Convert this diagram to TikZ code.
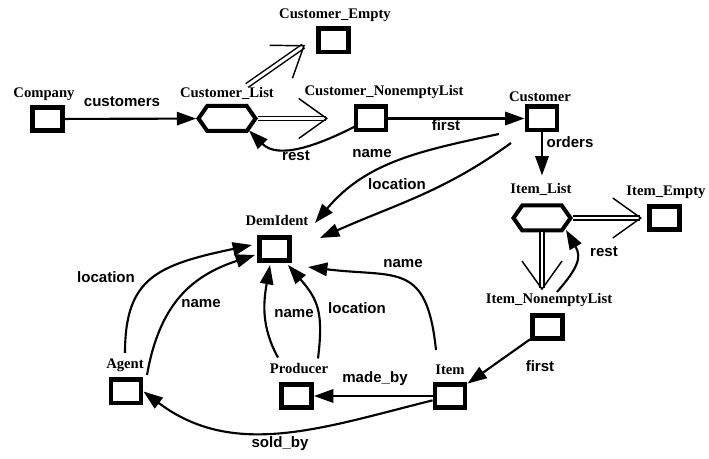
\documentclass[tikz,border=0pt]{standalone}
\usepackage{fontspec}
\setmainfont{Liberation Serif}
\setsansfont{Liberation Sans}
\usetikzlibrary{arrows.meta, calc, shapes.symbols}

\tikzset{
  entity/.style={draw, line width=3.5pt, minimum width=22.7pt, minimum height=17.5pt, inner sep=0pt},
  listbox/.style={draw, line width=3pt, shape=signal, signal to=east and west, signal pointer angle=110, minimum width=42.75pt, minimum height=18.75pt, inner sep=0pt},
  title/.style={font=\bfseries\fontsize{11}{12}\selectfont, text height=7.5pt, text depth=2.5pt, inner sep=0pt},
  rel/.style={font=\sffamily\bfseries\fontsize{11.3}{13}\selectfont, text height=8.3pt, text depth=2.4pt, inner sep=0pt},
  conn/.style={line width=1.6pt, -{Triangle[length=14.5pt,width=10pt]}},
  dconn/.style={double, double distance=2.2pt, line width=1.1pt, -{Straight Barb[length=21pt,width=30pt]}},
}

\begin{document}
\begin{tikzpicture}[x=0.75pt, y=0.75pt]
  \useasboundingbox (0,0) rectangle (709,459);
  % boxes and lists
  \node[entity] (comp) at (47.5,340) {};
  \node[entity] (cempty) at (333.5,418.5) {};
  \node[listbox] (clist) at (227,340.5) {};
  \node[entity] (cnlist) at (371,340.5) {};
  \node[entity] (cust) at (542,340.5) {};
  \node[entity] (dem) at (274.5,210) {};
  \node[listbox] (ilist) at (542,241) {};
  \node[entity] (iempty) at (664.5,241) {};
  \node[entity] (inlist) at (547.5,132) {};
  \node[entity] (item) at (450,63) {};
  \node[entity] (prod) at (296.5,63) {};
  \node[entity] (agent) at (126,67.5) {};
  % their names
  \node[title] (tcomp) at (44,364.6) {Company};
  \node[title] (tcempty) at (335,444.3) {Customer\_Empty};
  \node[title] (tclist) at (227,365.3) {Customer\_List};
  \node[title] (tcnlist) at (384,367.3) {Customer\_NonemptyList};
  \node[title] (tcust) at (540,361.3) {Customer};
  \node[title] (tdem) at (277,237.3) {DemIdent};
  \node[title] (tilist) at (541,269.3) {Item\_List};
  \node[title] (tiempty) at (666,267.3) {Item\_Empty};
  \node[title] (tinlist) at (549,159.3) {Item\_NonemptyList};
  \node[title] (titem) at (450,88.3) {Item};
  \node[title] (tprod) at (299,89.3) {Producer};
  \node[title] (tagent) at (125,94.3) {Agent};
  % straight links
  \draw[conn] (comp) -- (clist);
  \draw[conn] (cnlist) -- (cust);
  \draw[conn, shorten >=21pt] (cust) -- (ilist);
  \draw[conn] (inlist) -- (item);
  \draw[conn] (item) -- (prod);
  % list cases
  \draw[dconn] ([shift={(20,33)}]clist.center) -- ([shift={(-28.5,-4.5)}]cempty.center);
  \draw[dconn] (clist) -- ([shift={(-43,0)}]cnlist.center);
  \draw[dconn, shorten >=3.75pt] (ilist) -- (iempty);
  \draw[dconn, shorten >=17pt] (ilist) -- (ilist |- inlist.north);
  % rest
  \draw[conn] ([shift={(-16,-8)}]cnlist.center) to[out=207, in=-45] ([shift={(22,-12)}]clist.center);
  \draw[conn] ([shift={(9.5,35)}]inlist.center) to[out=49, in=300, looseness=1.3] ([shift={(24,-12)}]ilist.center);
  % curved links into DemIdent
  \draw[conn] ([shift={(-43,-15.5)}]cust.center) to[out=192, in=50] ([shift={(40.5,26)}]dem.center);
  \draw[conn] ([shift={(-31,-24.5)}]cust.center) to[out=216, in=24] ([shift={(45.5,11)}]dem.center);
  \draw[conn] ([shift={(-1,38.5)}]agent.center) .. controls +(0,75) and +(-95,-20) .. ([shift={(-22.5,4)}]dem.center);
  \draw[conn] ([shift={(21,16.5)}]agent.center) to[out=80, in=198, looseness=1.1] ([shift={(-19.5,-6)}]dem.center);
  \draw[conn] ([shift={(-18.5,38.5)}]prod.center) to[out=119, in=260] ([shift={(-4.5,-16)}]dem.center);
  \draw[conn] ([shift={(21.5,37.5)}]prod.center) to[out=83, in=311, looseness=1.2] ([shift={(13.5,-16)}]dem.center);
  \draw[conn] ([shift={(-14,46)}]item.center) to[out=96, in=353, looseness=1.5] ([shift={(33.5,-18)}]dem.center);
  \draw[conn] (item) to[out=194, in=-37] (agent.east);
  % link names
  \node[rel] (lcust) at (122,356) {customers};
  \node[rel] (lfirst) at (446,332) {first};
  \node[rel] (lrest) at (296,302) {rest};
  \node[rel] (lorders) at (570,315) {orders};
  \node[rel] (lname) at (372,305) {name};
  \node[rel] (lloc) at (397,273) {location};
  \node[rel] (lagloc) at (106,180) {location};
  \node[rel] (lagname) at (201,155) {name};
  \node[rel] (lprname) at (294,145) {name};
  \node[rel] (lprloc) at (357,149) {location};
  \node[rel] (litname) at (403,195) {name};
  \node[rel] (lirest) at (604,206) {rest};
  \node[rel] (lifirst) at (540,91) {first};
  \node[rel] (lmade) at (375,80) {made\_by};
  \node[rel] (lsold) at (280,15) {sold\_by};
\end{tikzpicture}
\end{document}
